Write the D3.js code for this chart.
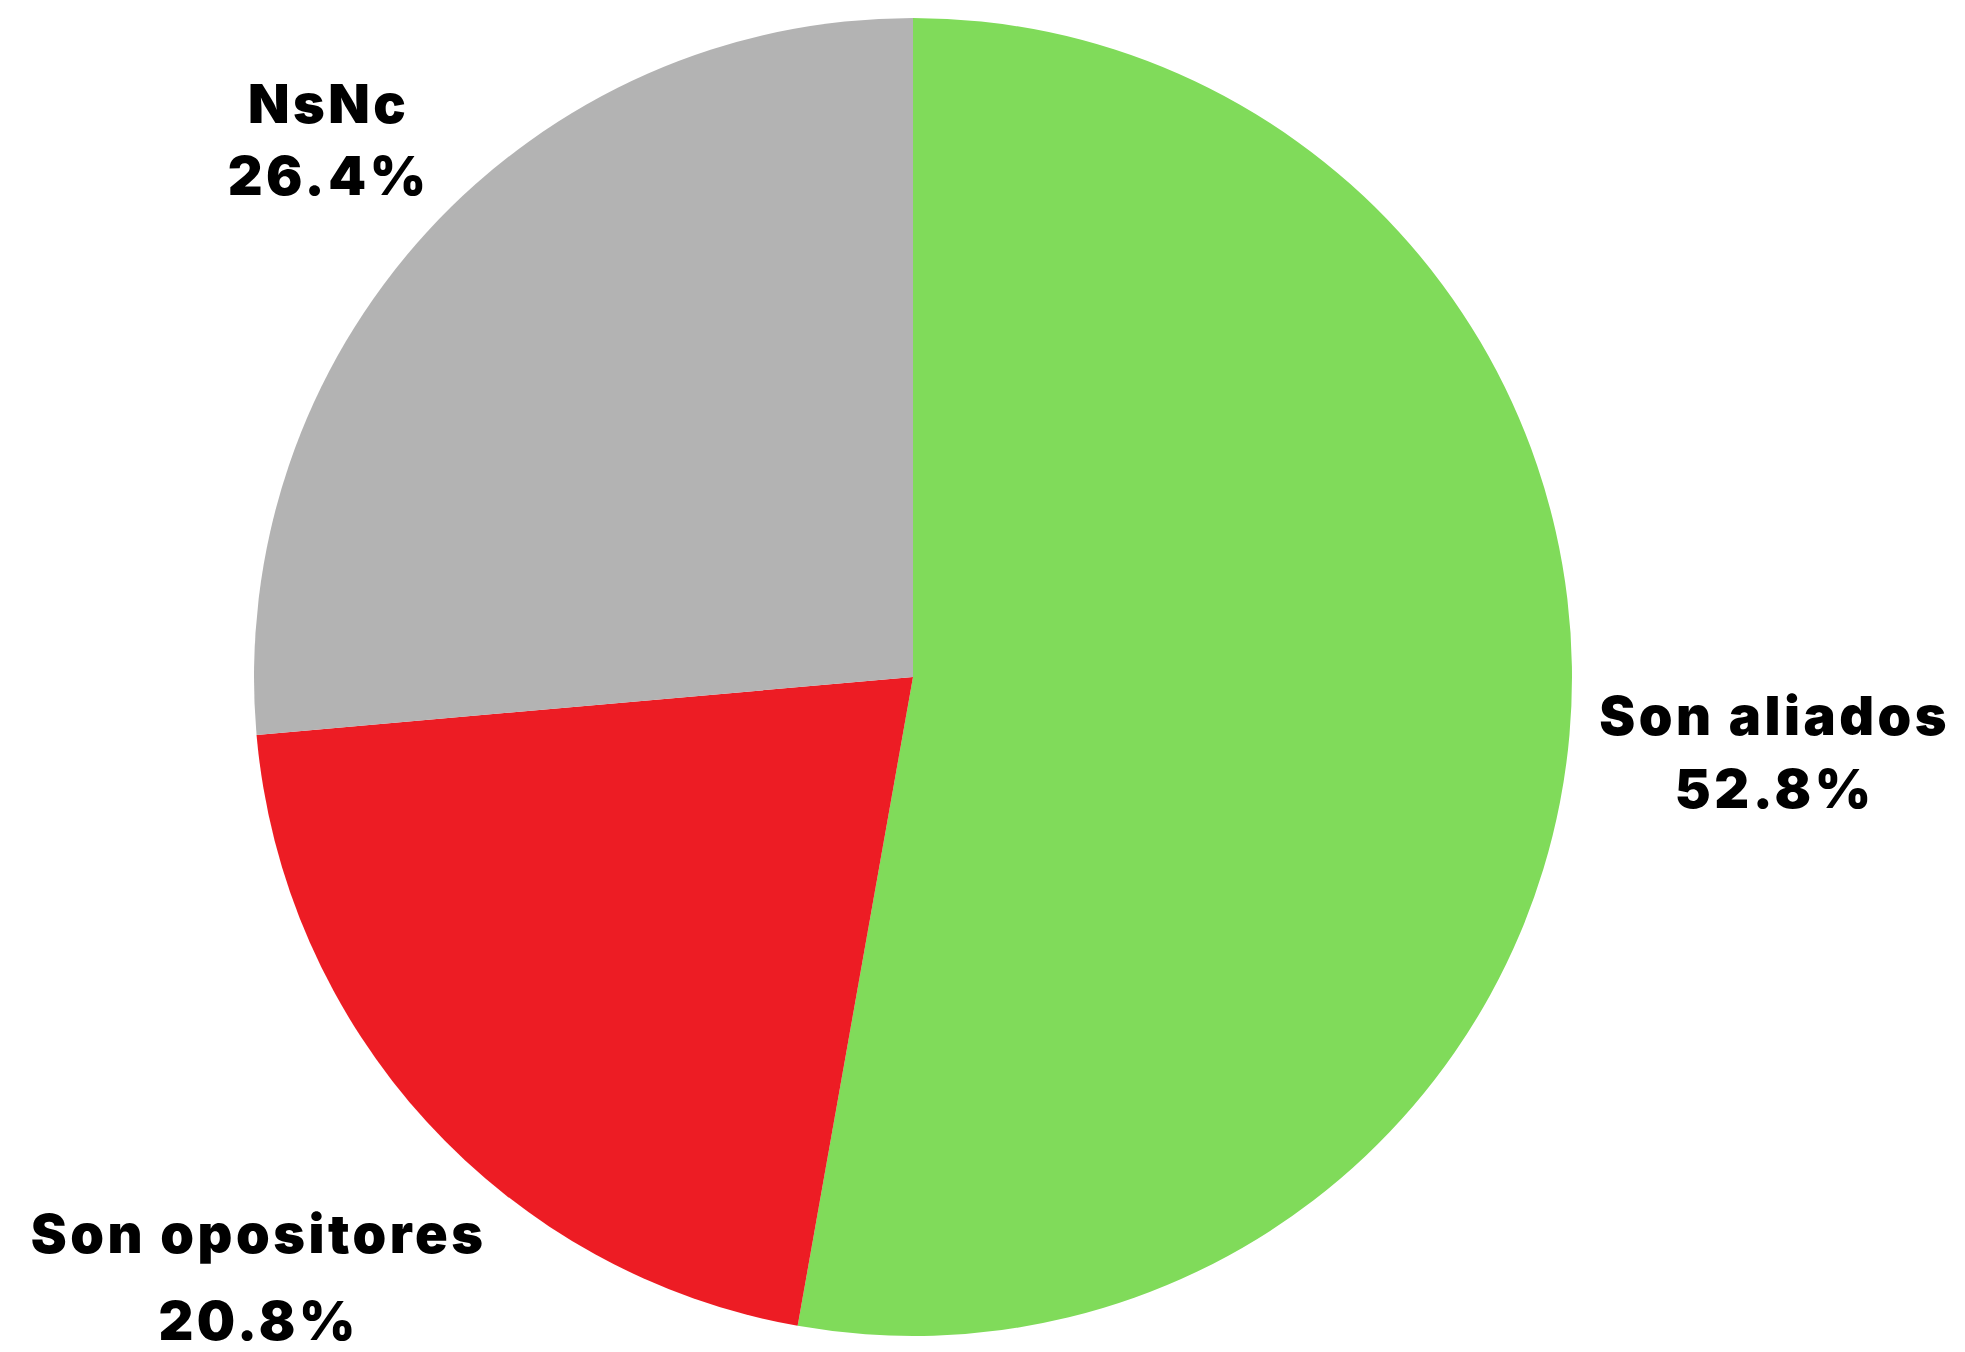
<!DOCTYPE html>
<html><head><meta charset="utf-8">
<script src="https://cdn.jsdelivr.net/npm/d3@7"></script>
<style>html,body{margin:0;padding:0;background:#fff;}svg{display:block;}</style>
</head><body>
<svg id="chart" width="1965" height="1352"></svg>
<script>
const categories = ["Son aliados", "Son opositores", "NsNc"];
const values = [52.8, 20.8, 26.4];
const colors = ["#80db5a", "#ed1c24", "#b3b3b3"];

// label placement (style): radius factor from centre, baseline gap between lines
const labelRadius = [1.31, 1.35, 1.206];
const lineGap = [73, 87, 72];

const W = 1965, H = 1352;
const cx = 913, cy = 677, R = 659;
const LS = 3.5;
const svg = d3.select("#chart");
const g = svg.append("g").attr("transform", `translate(${cx},${cy})`);

const data = categories.map((c, i) => ({cat: c, value: values[i], color: colors[i], i}));
const pie = d3.pie().value(d => d.value).sort(null);
const arcs = pie(data);
const arc = d3.arc().innerRadius(0).outerRadius(R);

g.selectAll("path.slice").data(arcs).enter().append("path")
  .attr("class", "slice")
  .attr("d", arc)
  .attr("fill", d => d.data.color);

const fmt = v => v.toFixed(1) + "%";
const lbl = g.selectAll("g.lbl").data(arcs).enter().append("g").attr("class", "lbl")
  .attr("transform", d => {
    const a = (d.startAngle + d.endAngle) / 2;
    const r = R * labelRadius[d.data.i];
    return `translate(${r * Math.sin(a) + LS / 2},${-r * Math.cos(a)})`;
  });
lbl.each(function(d) {
  const gap = lineGap[d.data.i];
  const t = d3.select(this).append("text")
    .attr("text-anchor", "middle")
    .style("font-family", "Inter, 'Open Sans', sans-serif")
    .style("font-weight", 900)
    .style("font-size", "54px")
    .style("letter-spacing", LS + "px")
    .attr("fill", "#000");
  t.append("tspan").attr("x", 0).attr("y", -gap / 2 + 19).text(d.data.cat);
  t.append("tspan").attr("x", 0).attr("y", gap / 2 + 19).text(fmt(d.data.value));
});
</script>
</body></html>
